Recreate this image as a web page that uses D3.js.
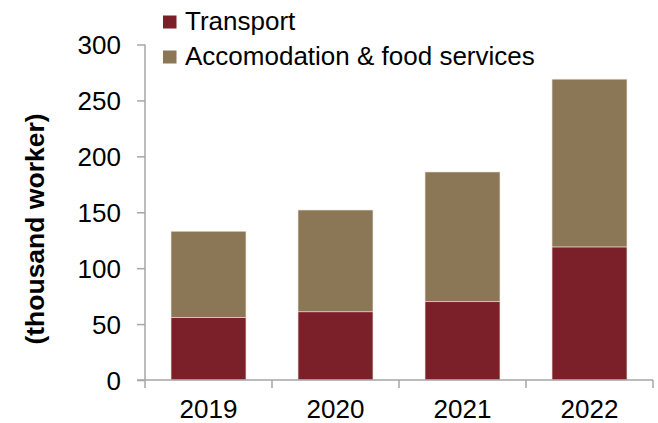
<!DOCTYPE html>
<html>
<head>
<meta charset="utf-8">
<script src="https://cdn.jsdelivr.net/npm/d3@7"></script>
<style>
  body { margin: 0; background: #fff; }
  text { font-family: "Liberation Sans", Arial, sans-serif; fill: #000; }
</style>
</head>
<body>
<div id="chart"></div>
<script>
// data
var years = ["2019", "2020", "2021", "2022"];
var transport = [56, 61, 70, 119];
var accomodation = [77, 91, 116, 150];
var seriesNames = ["Transport", "Accomodation & food services"];
var seriesColors = ["#7B2029", "#8B7755"];
var yTicks = [0, 50, 100, 150, 200, 250, 300];

var width = 658, height = 423;
var margin = {top: 44.5, right: 5, bottom: 43, left: 145};
var chartW = width - margin.left - margin.right;
var chartH = height - margin.top - margin.bottom;

var data = years.map(function(y, i) {
  return {year: y, Transport: transport[i], "Accomodation & food services": accomodation[i]};
});

var stacked = d3.stack().keys(seriesNames)(data);

var xScale = d3.scaleBand()
  .domain(years)
  .range([0, chartW])
  .paddingInner(0.41)
  .paddingOuter(0.205);

var yScale = d3.scaleLinear()
  .domain([0, 300])
  .range([chartH, 0]);

var svg = d3.select("#chart").append("svg")
  .attr("width", width)
  .attr("height", height);

var container = svg.append("g")
  .attr("transform", "translate(" + margin.left + "," + margin.top + ")");

// bars
container.selectAll(".series")
  .data(stacked)
  .enter().append("g")
    .attr("class", "series")
    .attr("fill", function(d, i) { return seriesColors[i]; })
  .selectAll("rect")
  .data(function(d) { return d; })
  .enter().append("rect")
    .attr("x", function(d) { return xScale(d.data.year); })
    .attr("width", xScale.bandwidth())
    .attr("y", function(d) { return yScale(d[1]); })
    .attr("height", function(d) { return yScale(d[0]) - yScale(d[1]); })
    .attr("stroke", "#e8e2da")
    .attr("stroke-width", 0.6);

// y axis
var yAxis = d3.axisLeft(yScale).tickValues(yTicks).tickSize(8).tickPadding(16);
var gy = container.append("g").attr("class", "y axis").call(yAxis);
gy.select(".domain").attr("stroke", "#a6a6a6").attr("stroke-width", 1.5)
  .attr("d", "M0," + (chartH + 0.5) + "V0");
gy.selectAll(".tick line").attr("stroke", "#a6a6a6").attr("stroke-width", 1.5);
gy.selectAll(".tick text").style("font-size", "26px").attr("dy", "0.36em");

// x axis, ticks on band edges
var gx = container.append("g")
  .attr("transform", "translate(0," + chartH + ")");
gx.append("line")
  .attr("x1", -8).attr("x2", chartW)
  .attr("stroke", "#a6a6a6").attr("stroke-width", 1.5);
var step = xScale.step();
gx.selectAll(".xt")
  .data(d3.range(years.length + 1))
  .enter().append("line")
    .attr("x1", function(i) { return i * step; })
    .attr("x2", function(i) { return i * step; })
    .attr("y1", 0).attr("y2", 8)
    .attr("stroke", "#a6a6a6").attr("stroke-width", 1.5);
gx.selectAll(".xl")
  .data(years)
  .enter().append("text")
    .attr("x", function(d) { return xScale(d) + xScale.bandwidth() / 2; })
    .attr("y", 38)
    .attr("text-anchor", "middle")
    .style("font-size", "26px")
    .text(function(d) { return d; });

// y axis label
svg.append("text")
  .attr("transform", "translate(44,229) rotate(-90)")
  .attr("text-anchor", "middle")
  .style("font-size", "26.5px")
  .style("font-weight", "bold")
  .text("(thousand worker)");

// legend
var legend = svg.selectAll(".legend")
  .data(seriesNames)
  .enter().append("g")
    .attr("transform", function(d, i) { return "translate(163," + (15.5 + i * 35) + ")"; });
legend.append("rect")
  .attr("width", 13.5).attr("height", 13)
  .attr("fill", function(d, i) { return seriesColors[i]; });
legend.append("text")
  .attr("x", 22).attr("y", 14.5)
  .style("font-size", "26px")
  .text(function(d) { return d; });
</script>
</body>
</html>
